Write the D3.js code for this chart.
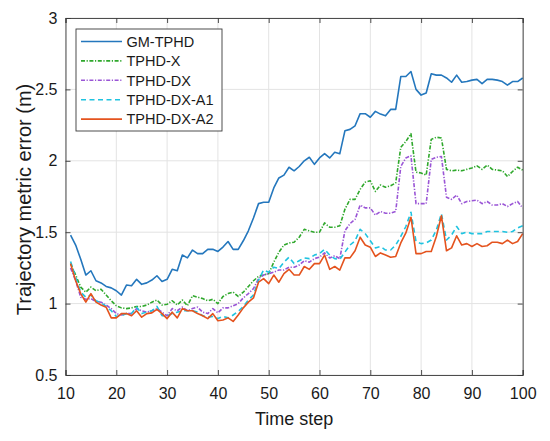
<!DOCTYPE html>
<html>
<head>
<meta charset="utf-8">
<script src="https://cdn.jsdelivr.net/npm/d3@7"></script>
<style>
  body { margin: 0; background: #fff; }
  svg { font-family: "Liberation Sans", Arial, sans-serif; display: block; }
</style>
</head>
<body>
<div id="chart"></div>
<script>
// Time steps on the x axis
const timeSteps = [11, 12, 13, 14, 15, 16, 17, 18, 19, 20,
    21, 22, 23, 24, 25, 26, 27, 28, 29, 30,
    31, 32, 33, 34, 35, 36, 37, 38, 39, 40,
    41, 42, 43, 44, 45, 46, 47, 48, 49, 50,
    51, 52, 53, 54, 55, 56, 57, 58, 59, 60,
    61, 62, 63, 64, 65, 66, 67, 68, 69, 70,
    71, 72, 73, 74, 75, 76, 77, 78, 79, 80,
    81, 82, 83, 84, 85, 86, 87, 88, 89, 90,
    91, 92, 93, 94, 95, 96, 97, 98, 99, 100];

// Trajectory metric error per method
const gmTphd = [1.48, 1.41, 1.31, 1.20, 1.23, 1.16, 1.145, 1.12, 1.11, 1.09,
    1.06, 1.13, 1.125, 1.17, 1.135, 1.145, 1.165, 1.195, 1.155, 1.17,
    1.24, 1.23, 1.34, 1.32, 1.375, 1.35, 1.35, 1.38, 1.38, 1.365,
    1.396, 1.435, 1.38, 1.38, 1.44, 1.51, 1.60, 1.70, 1.71, 1.71,
    1.81, 1.88, 1.90, 1.955, 1.93, 1.96, 2.0, 2.025, 1.975, 2.02,
    2.05, 2.02, 2.06, 2.05, 2.21, 2.22, 2.245, 2.33, 2.33, 2.305,
    2.346, 2.327, 2.315, 2.36, 2.36, 2.59, 2.59, 2.625, 2.50, 2.46,
    2.475, 2.61, 2.60, 2.60, 2.58, 2.55, 2.60, 2.55, 2.555, 2.565,
    2.57, 2.54, 2.57, 2.57, 2.565, 2.555, 2.53, 2.555, 2.555, 2.58];

const tphdX = [1.28, 1.20, 1.115, 1.08, 1.115, 1.09, 1.10, 1.06, 1.02, 0.985,
    0.97, 0.965, 0.97, 0.98, 0.98, 0.99, 1.01, 1.025, 0.99, 0.995,
    1.02, 0.99, 1.025, 0.985, 1.055, 1.045, 1.035, 1.02, 1.03, 1.0,
    1.05, 1.07, 1.08, 1.05, 1.08, 1.12, 1.16, 1.19, 1.20, 1.21,
    1.29, 1.36, 1.41, 1.425, 1.43, 1.465, 1.52, 1.51, 1.50, 1.50,
    1.565, 1.535, 1.535, 1.545, 1.66, 1.73, 1.73, 1.80, 1.85, 1.86,
    1.785, 1.83, 1.815, 1.825, 1.845, 2.095, 2.135, 2.19, 1.92, 1.915,
    1.90, 2.15, 2.165, 2.16, 1.94, 1.93, 1.935, 1.93, 1.94, 1.95,
    1.965, 1.94, 1.97, 1.94, 1.935, 1.93, 1.89, 1.925, 1.955, 1.935];

const tphdDX = [1.25, 1.16, 1.045, 1.03, 1.035, 1.015, 1.01, 0.99, 0.965, 0.93,
    0.92, 0.93, 0.93, 0.965, 0.95, 0.94, 0.95, 0.965, 0.94, 0.915,
    0.965, 0.95, 0.975, 0.95, 0.965, 0.975, 0.94, 0.93, 0.965, 0.935,
    0.97, 0.97, 0.985, 1.0, 1.04, 1.07, 1.105, 1.175, 1.20, 1.21,
    1.22, 1.235, 1.235, 1.255, 1.255, 1.27, 1.30, 1.29, 1.315, 1.325,
    1.355, 1.32, 1.335, 1.315, 1.51, 1.56, 1.59, 1.69, 1.67, 1.67,
    1.62, 1.645, 1.633, 1.633, 1.645, 1.96, 2.02, 2.035, 1.70, 1.70,
    1.70, 2.01, 2.025, 2.03, 1.745, 1.73, 1.76, 1.70, 1.715, 1.72,
    1.725, 1.70, 1.715, 1.69, 1.69, 1.70, 1.68, 1.70, 1.715, 1.67];

const tphdDXA1 = [1.295, 1.185, 1.08, 1.045, 1.06, 1.02, 1.005, 0.98, 0.95, 0.91,
    0.915, 0.93, 0.93, 0.975, 0.93, 0.94, 0.95, 0.98, 0.915, 0.915,
    0.93, 0.94, 0.95, 0.95, 0.95, 0.94, 0.915, 0.905, 0.91, 0.895,
    0.91, 0.90, 0.92, 0.945, 0.98, 1.025, 1.06, 1.165, 1.235, 1.22,
    1.255, 1.245, 1.29, 1.325, 1.28, 1.30, 1.32, 1.315, 1.34, 1.35,
    1.38, 1.34, 1.315, 1.31, 1.36, 1.41, 1.44, 1.52, 1.49, 1.44,
    1.39, 1.40, 1.375, 1.375, 1.41, 1.47, 1.54, 1.64, 1.435, 1.42,
    1.425, 1.445, 1.515, 1.63, 1.445, 1.48, 1.54, 1.49, 1.50, 1.49,
    1.49, 1.49, 1.505, 1.505, 1.505, 1.505, 1.50, 1.505, 1.53, 1.545];

const tphdDXA2 = [1.28, 1.16, 1.07, 1.01, 1.07, 1.01, 0.99, 0.975, 0.90, 0.90,
    0.93, 0.93, 0.915, 0.95, 0.905, 0.93, 0.935, 0.96, 0.93, 0.895,
    0.94, 0.90, 0.965, 0.95, 0.95, 0.93, 0.915, 0.895, 0.93, 0.88,
    0.885, 0.90, 0.875, 0.92, 0.97, 1.01, 1.04, 1.15, 1.175, 1.14,
    1.20, 1.15, 1.21, 1.24, 1.20, 1.20, 1.26, 1.24, 1.28, 1.28,
    1.34, 1.24, 1.26, 1.235, 1.32, 1.32, 1.37, 1.465, 1.41, 1.395,
    1.33, 1.355, 1.34, 1.325, 1.33, 1.425, 1.495, 1.605, 1.35, 1.35,
    1.365, 1.365, 1.47, 1.615, 1.37, 1.39, 1.475, 1.41, 1.42, 1.40,
    1.42, 1.40, 1.405, 1.43, 1.43, 1.42, 1.445, 1.42, 1.435, 1.49];

const seriesNames = ["GM-TPHD", "TPHD-X", "TPHD-DX", "TPHD-DX-A1", "TPHD-DX-A2"];
const xTicks = [10, 20, 30, 40, 50, 60, 70, 80, 90, 100];
const yTicks = [0.5, 1, 1.5, 2, 2.5, 3];

// Styles per series
const styles = [
    {color: "#2477bd", dash: null},
    {color: "#2fa82c", dash: "4,1.6,1.2,1.6"},
    {color: "#9a55d6", dash: "4,1.6,1.2,1.6"},
    {color: "#1fc3e0", dash: "5,3.5"},
    {color: "#e4531e", dash: null}
];

const series = [gmTphd, tphdX, tphdDX, tphdDXA1, tphdDXA2];

// Set up SVG
const totalW = 550, totalH = 441;
const margin = {top: 18, right: 27.3, bottom: 66, left: 65.5};
const width = totalW - margin.left - margin.right;
const height = totalH - margin.top - margin.bottom;

const root = d3.select("#chart")
    .append("svg")
    .attr("width", totalW)
    .attr("height", totalH);

const svg = root.append("g")
    .attr("transform", `translate(${margin.left},${margin.top})`);

const xScale = d3.scaleLinear().domain([10, 100]).range([0, width]);
const yScale = d3.scaleLinear().domain([0.5, 3]).range([height, 0]);

// Grid lines
svg.append("g")
    .selectAll("line.vgrid")
    .data(xTicks)
    .join("line")
    .attr("x1", d => xScale(d))
    .attr("x2", d => xScale(d))
    .attr("y1", 0)
    .attr("y2", height)
    .attr("stroke", "#e3e3e3")
    .attr("stroke-width", 1);

svg.append("g")
    .selectAll("line.hgrid")
    .data(yTicks)
    .join("line")
    .attr("x1", 0)
    .attr("x2", width)
    .attr("y1", d => yScale(d))
    .attr("y2", d => yScale(d))
    .attr("stroke", "#e3e3e3")
    .attr("stroke-width", 1);

// Lines
const line = d3.line()
    .x((d, i) => xScale(timeSteps[i]))
    .y(d => yScale(d));

series.forEach((values, k) => {
    svg.append("path")
        .datum(values)
        .attr("d", line)
        .attr("fill", "none")
        .attr("stroke", styles[k].color)
        .attr("stroke-width", 1.6)
        .attr("stroke-linejoin", "round")
        .attr("stroke-dasharray", styles[k].dash);
});

// Axes (MATLAB style, ticks inside, box on)
const axisColor = "#3a3a3a";
const xAxis = svg.append("g")
    .attr("transform", `translate(0,${height})`)
    .call(d3.axisBottom(xScale).tickValues(xTicks).tickSize(-5).tickPadding(13).tickFormat(d3.format("d")));
const xAxisTop = svg.append("g")
    .call(d3.axisTop(xScale).tickValues(xTicks).tickSize(-5).tickFormat(""));
const yAxis = svg.append("g")
    .call(d3.axisLeft(yScale).tickValues(yTicks).tickSize(-5).tickPadding(8).tickFormat(d => d));
const yAxisRight = svg.append("g")
    .attr("transform", `translate(${width},0)`)
    .call(d3.axisRight(yScale).tickValues(yTicks).tickSize(-5).tickFormat(""));

[xAxis, xAxisTop, yAxis, yAxisRight].forEach(g => {
    g.select(".domain").attr("stroke", axisColor).attr("stroke-width", 0.9);
    g.selectAll(".tick line").attr("stroke", axisColor).attr("stroke-width", 0.9);
    g.selectAll("text")
        .attr("fill", "#1a1a1a")
        .style("font-size", "16px")
        .style("font-family", "'Liberation Sans', Arial, sans-serif");
});

// Axis labels
svg.append("text")
    .attr("x", width / 2)
    .attr("y", height + 50)
    .attr("text-anchor", "middle")
    .attr("fill", "#1a1a1a")
    .style("font-size", "18px")
    .text("Time step");

svg.append("text")
    .attr("transform", `translate(${31 - margin.left},${height / 2 + 3}) rotate(-90)`)
    .attr("text-anchor", "middle")
    .attr("fill", "#1a1a1a")
    .style("font-size", "20px")
    .text("Trajectory metric error (m)");

// Legend
const legend = svg.append("g")
    .attr("transform", `translate(${76 - margin.left},${29 - margin.top})`);

legend.append("rect")
    .attr("x", 0)
    .attr("y", 0)
    .attr("width", 146)
    .attr("height", 102)
    .attr("fill", "#fff")
    .attr("stroke", axisColor)
    .attr("stroke-width", 0.9);

seriesNames.forEach((name, k) => {
    const yy = 12.5 + k * 19.4;
    legend.append("line")
        .attr("x1", 5)
        .attr("x2", 46)
        .attr("y1", yy)
        .attr("y2", yy)
        .attr("stroke", styles[k].color)
        .attr("stroke-width", 1.6)
        .attr("stroke-dasharray", styles[k].dash);
    legend.append("text")
        .attr("x", 50.5)
        .attr("y", yy + 5.2)
        .attr("fill", "#1a1a1a")
        .style("font-size", "14.5px")
        .text(name);
});
</script>
</body>
</html>
